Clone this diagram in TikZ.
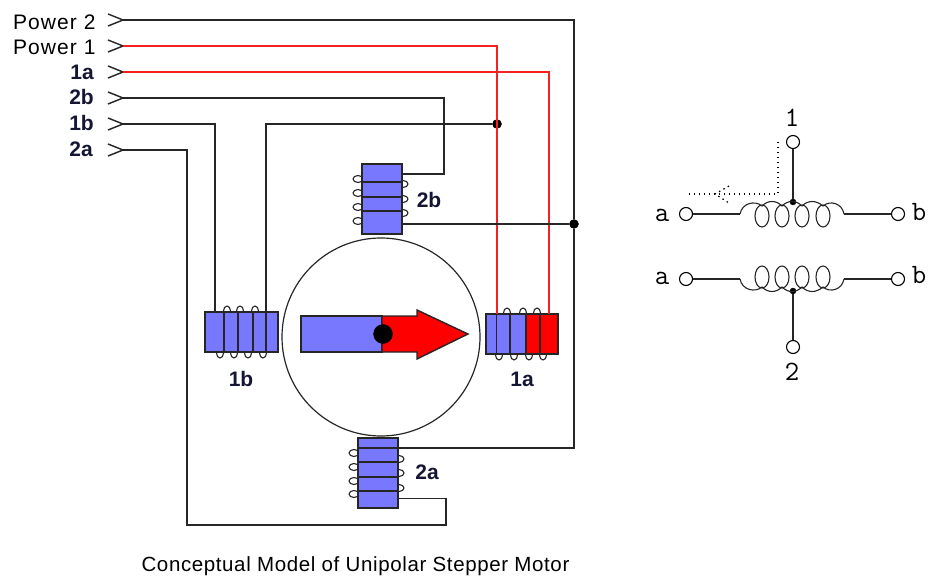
\documentclass[tikz,border=0pt]{standalone}
\usepackage{fontspec}
\setmainfont{Liberation Sans}
\newfontfamily\powerfont[LetterSpace=5]{Liberation Sans}
\newfontfamily\captionfont[LetterSpace=3]{Liberation Sans}
\usepackage{tikz}
\definecolor{coilblue}{HTML}{7878FF}
\definecolor{wirered}{HTML}{F52020}
\definecolor{labelnavy}{HTML}{151535}
\tikzset{
  wire/.style={line width=1.4pt, black!85},
  redwire/.style={line width=1.4pt, wirered},
  turn/.style={line width=1.1pt, black!85},
  coilbox/.style={draw=black!85, line width=1.4pt, rectangle, fill=coilblue, inner sep=0pt},
  joint/.style={draw, circle, fill=black, inner sep=0pt, minimum size=9pt},
  terminal/.style={draw, circle, fill=white, inner sep=0pt, minimum size=13pt, line width=1.1pt},
  powerlabel/.style={font=\fontsize{21}{21}\selectfont\powerfont, anchor=west, inner sep=0pt},
  coillabel/.style={font=\fontsize{21}{21}\selectfont\bfseries, text=labelnavy, inner sep=0pt},
  schemlabel/.style={font=\fontsize{28}{28}\selectfont\ttfamily, inner sep=0pt}
}
\begin{document}
\begin{tikzpicture}[x=1pt,y=-1pt]
\useasboundingbox (0,0) rectangle (928,577);
% inputs
\node[powerlabel] (lP2) at (13,22){Power 2};
\node[powerlabel] (lP1) at (13,47){Power 1};
\node[coillabel, anchor=east] (l1a) at (94,72){1a};
\node[coillabel, anchor=east] (l2b) at (94,97){2b};
\node[coillabel, anchor=east] (l1b) at (94,123){1b};
\node[coillabel, anchor=east] (l2a) at (93,149){2a};
\coordinate (inP2) at (123,20);
\coordinate (inP1) at (123,46);
\coordinate (in1a) at (123,72);
\coordinate (in2b) at (123,98);
\coordinate (in1b) at (123,124);
\coordinate (in2a) at (123,150);
\draw[wire] (108,14) -- (inP2) -- (108,26);
\draw[wire] (108,40) -- (inP1) -- (108,52);
\draw[wire] (108,66) -- (in1a) -- (108,78);
\draw[wire] (108,92) -- (in2b) -- (108,104);
\draw[wire] (108,118) -- (in1b) -- (108,130);
\draw[wire] (108,144) -- (in2a) -- (108,156);
% rotor housing
\draw[line width=1.2pt, black!85] (381,337) circle (99);
% coil turns behind the boxes
\draw[turn] (358,179) circle[x radius=5, y radius=3.5] (358,193) circle[x radius=5, y radius=3.5]
  (358,207) circle[x radius=5, y radius=3.5] (358,221) circle[x radius=5, y radius=3.5];
\draw[turn] (403,184) circle[x radius=5, y radius=3.5] (403,199) circle[x radius=5, y radius=3.5]
  (403,213) circle[x radius=5, y radius=3.5];
\draw[turn] (354,453) circle[x radius=5, y radius=3.5] (354,467) circle[x radius=5, y radius=3.5]
  (354,481) circle[x radius=5, y radius=3.5] (354,494) circle[x radius=5, y radius=3.5];
\draw[turn] (399,459) circle[x radius=5, y radius=3.5] (399,473) circle[x radius=5, y radius=3.5]
  (399,488) circle[x radius=5, y radius=3.5];
\draw[turn] (227,311) circle[x radius=3.5, y radius=5] (240,311) circle[x radius=3.5, y radius=5]
  (255,311) circle[x radius=3.5, y radius=5];
\draw[turn] (220,353) circle[x radius=3.5, y radius=5] (234,353) circle[x radius=3.5, y radius=5]
  (248,353) circle[x radius=3.5, y radius=5] (263,353) circle[x radius=3.5, y radius=5];
\draw[turn] (507,313) circle[x radius=3.5, y radius=5] (523,313) circle[x radius=3.5, y radius=5]
  (537,313) circle[x radius=3.5, y radius=5];
\draw[turn] (499,355) circle[x radius=3.5, y radius=5] (514,355) circle[x radius=3.5, y radius=5]
  (529,355) circle[x radius=3.5, y radius=5] (543,355) circle[x radius=3.5, y radius=5];
% stator boxes
\node[coilbox, minimum width=40pt, minimum height=70pt] (box2b) at (382,199){};
\node[coilbox, minimum width=40pt, minimum height=70pt] (box2a) at (378,473){};
\node[coilbox, minimum width=73pt, minimum height=40pt] (box1b) at (241.5,332){};
\node[coilbox, minimum width=40pt, minimum height=40pt] (box1aL) at (506,334){};
\node[coilbox, fill=red, minimum width=32pt, minimum height=40pt] (box1aR) at (542,334){};
\draw[wire] (362,182) -- (402,182) (362,197) -- (402,197) (362,211) -- (402,211);
\draw[wire] (358,448) -- (398,448) (358,462) -- (398,462) (358,477) -- (398,477) (358,491) -- (398,491);
\draw[wire] (224,312) -- (224,352) (238,312) -- (238,352) (253,312) -- (253,352) (266,312) -- (266,352);
\draw[wire] (510,314) -- (510,354) (540,314) -- (540,354);
\draw[wire] (496.5,314) -- (496.5,354);
% rotor
\node[coilbox, minimum width=81pt, minimum height=36pt] (rotorS) at (341.5,334){};
\draw[line width=1.4pt, black!85, fill=red] (382,316) -- (417,316) -- (417,310) -- (468,334) -- (417,359) -- (417,352) -- (382,352) -- cycle;
\node[joint, minimum size=19pt] (axle) at (383,334){};
% wires
\node[joint] (j1) at (497,124){};
\node[joint] (j2) at (574,224){};
\coordinate (top1aP) at (497,314);
\coordinate (top1aA) at (549,314);
\coordinate (top1bA) at (215,312);
\coordinate (top1bP) at (266,312);
\coordinate (bend2b) at (444,174);
\coordinate (tap2aT) at (398,448);
\coordinate (corner2a) at (187,525);
\coordinate (bend2a) at (446,525);
\coordinate (tap2aB) at (398,498.5);
\draw[redwire] (inP1) -| (top1aP);
\draw[redwire] (in1a) -| (top1aA);
\draw[wire] (inP2) -| (j2);
\draw[wire] (j2) |- (tap2aT);
\draw[wire] (j2) -- (j2 -| box2b.east);
\draw[wire] (in2b) -| (bend2b) -- (bend2b -| box2b.east);
\draw[wire] (in1b) -| (top1bA);
\draw[wire] (top1bP) |- (j1);
\draw[wire] (in2a) -| (corner2a) -- (bend2a) |- (tap2aB);
% coil names
\node[coillabel] (n1b) at (241,379){1b};
\node[coillabel] (n1a) at (522,379){1a};
\node[coillabel] (n2b) at (429,200){2b};
\node[coillabel] (n2a) at (427,472){2a};
\node[font=\fontsize{20.5}{20.5}\selectfont\captionfont, inner sep=0pt] (caption) at (355.5,566){Conceptual Model of Unipolar Stepper Motor};
% schematic, upper winding
\node[terminal] (t1) at (793,142){};
\node[terminal] (a1) at (686,214){};
\node[terminal] (b1) at (898,214){};
\node[joint, minimum size=6pt] (c1) at (793,202){};
\coordinate (c1l) at (740,214);
\coordinate (c1r) at (844,214);
\draw[turn] (t1) -- (c1);
\draw[turn] (a1) -- (c1l);
\draw[turn] (b1) -- (c1r);
\draw[turn] (c1l) .. controls (742,203) and (755,200) .. (762,206) .. controls (768,200) and (776,200) .. (782,206)
  .. controls (788,200) and (796,200) .. (802,206) .. controls (808,200) and (816,200) .. (823,206)
  .. controls (830,200) and (842,203) .. (c1r);
\draw[turn] (762,216) circle[x radius=7, y radius=11] (782,216) circle[x radius=7, y radius=11]
  (802,216) circle[x radius=7, y radius=11] (823,216) circle[x radius=7, y radius=11];
\node[schemlabel] (n1) at (792,118){1};
\node[schemlabel] (na1) at (662,215){a};
\node[schemlabel] (nb1) at (919,212){b};
\draw[line width=1.2pt, dash pattern=on 1.5pt off 3.5pt] (778,142) -- (778,194) -- (687,194);
\draw[line width=1.2pt, dash pattern=on 1.5pt off 3.5pt] (729,186) -- (715,194) -- (729,203);
% schematic, lower winding
\node[terminal] (t2) at (793,347){};
\node[terminal] (a2) at (686,279){};
\node[terminal] (b2) at (898,279){};
\node[joint, minimum size=6pt] (c2) at (793,291){};
\coordinate (c2l) at (740,279);
\coordinate (c2r) at (844,279);
\draw[turn] (t2) -- (c2);
\draw[turn] (a2) -- (c2l);
\draw[turn] (b2) -- (c2r);
\draw[turn] (c2l) .. controls (742,290) and (755,293) .. (762,287) .. controls (768,293) and (776,293) .. (782,287)
  .. controls (788,293) and (796,293) .. (802,287) .. controls (808,293) and (816,293) .. (823,287)
  .. controls (830,293) and (842,290) .. (c2r);
\draw[turn] (762,277) circle[x radius=7, y radius=11] (782,277) circle[x radius=7, y radius=11]
  (802,277) circle[x radius=7, y radius=11] (823,277) circle[x radius=7, y radius=11];
\node[schemlabel] (n2) at (792,372){2};
\node[schemlabel] (na2) at (662,278){a};
\node[schemlabel] (nb2) at (919,275){b};
\end{tikzpicture}
\end{document}
